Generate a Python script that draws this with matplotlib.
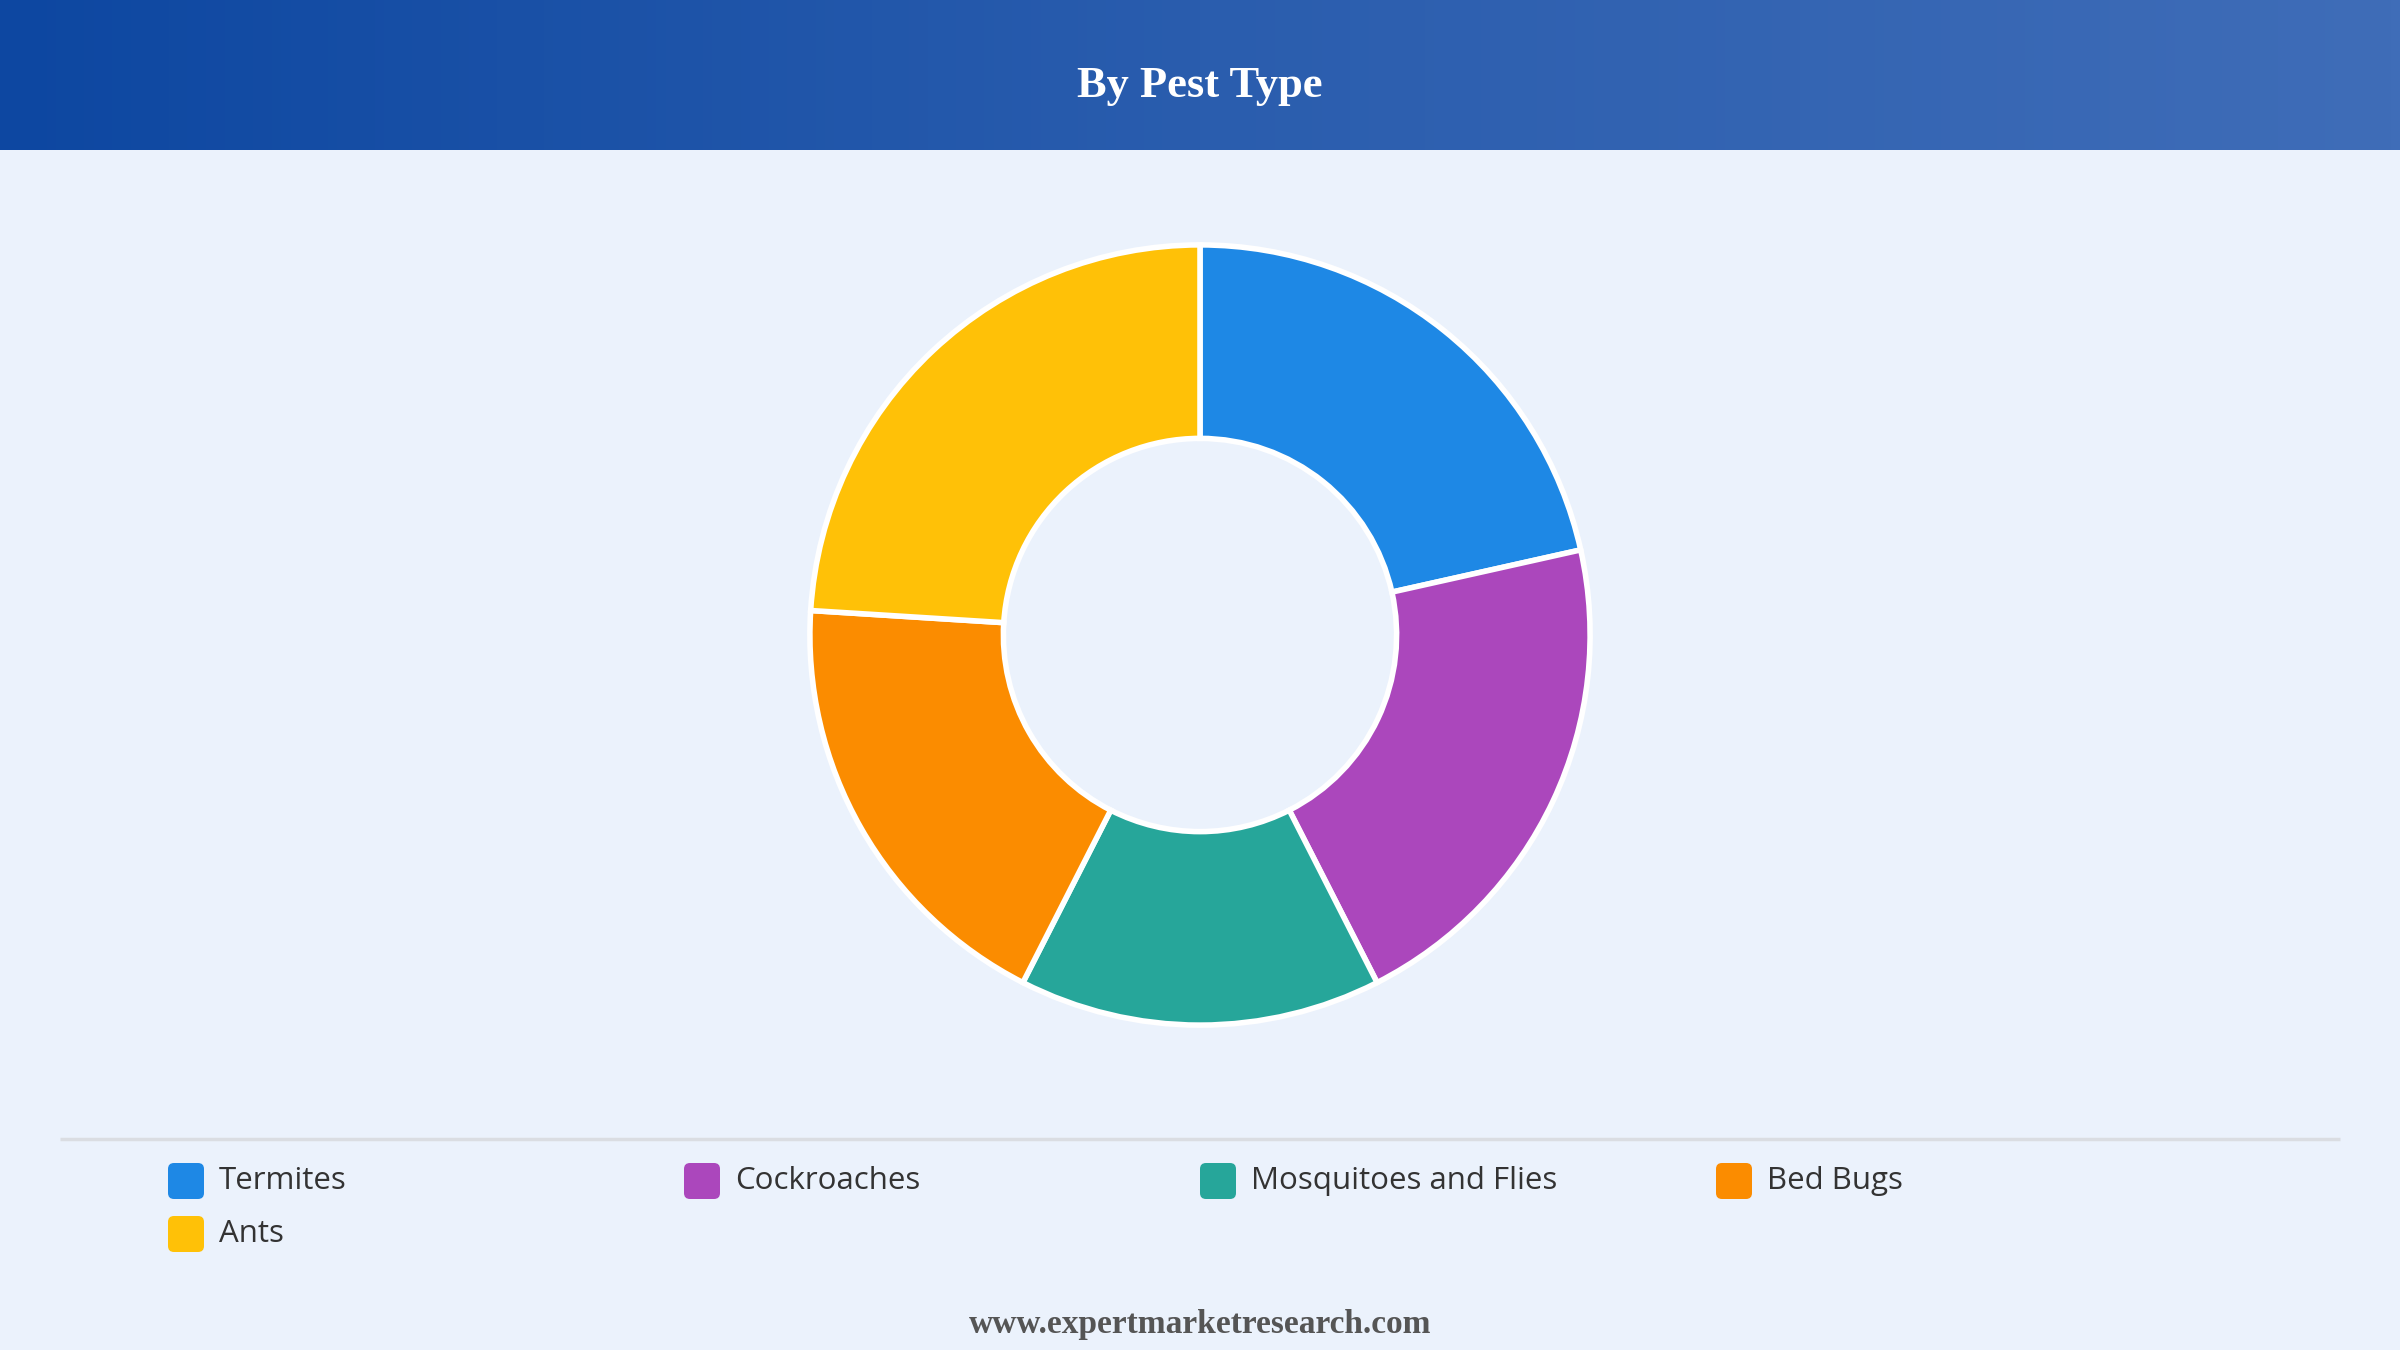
import numpy as np
import matplotlib.pyplot as plt
from matplotlib.patches import FancyBboxPatch
from matplotlib.colors import LinearSegmentedColormap

# data
categories = ['Termites', 'Cockroaches', 'Mosquitoes and Flies', 'Bed Bugs', 'Ants']
shares = [21.5, 21.0, 15.0, 18.5, 24.0]
colors = ['#1E88E5', '#AB47BC', '#26A69A', '#FB8C00', '#FFC107']

title = 'By Pest Type'
footer = 'www.expertmarketresearch.com'

W, H = 2400, 1350
fig = plt.figure(figsize=(W / 100, H / 100), dpi=100)
fig.patch.set_facecolor('#EBF2FC')

# background / header
bg = fig.add_axes([0, 0, 1, 1])
bg.set_xlim(0, W)
bg.set_ylim(H, 0)
bg.axis('off')
grad = LinearSegmentedColormap.from_list('hdr', ['#0D47A1', '#2A5DAE', '#3F6DB8'])
bg.imshow(np.linspace(0, 1, 256)[None, :], cmap=grad, aspect='auto',
          extent=[0, W, 150, 0], zorder=0)
bg.text(W / 2, 86, title, ha='center', va='center', color='white',
        fontsize=32, fontweight='bold', family='Liberation Serif')

# legend separator
bg.plot([60, 2340], [1139, 1139], color='#DADDE2', lw=2.5, solid_capstyle='butt')

# legend entries
col_x = [168, 684, 1200, 1716]
row_y = [1181, 1234]
for i, (lab, c) in enumerate(zip(categories, colors)):
    x = col_x[i % 4]
    y = row_y[i // 4]
    bg.add_patch(FancyBboxPatch((x, y - 18), 36, 36,
                                boxstyle='round,pad=0,rounding_size=6',
                                fc=c, ec='none'))
    bg.text(x + 51, y, lab, ha='left', va='center', fontsize=22.5,
            color='#333333', family='Open Sans')

bg.text(W / 2, 1325, footer, ha='center', va='center', fontsize=24,
        fontweight='bold', color='#555555', family='Liberation Serif')

# donut
cx, cy, r = 1200, 635, 394
ax = fig.add_axes([(cx - r) / W, (H - cy - r) / H, 2 * r / W, 2 * r / H])
ax.pie(shares, colors=colors, startangle=90, counterclock=False, radius=1,
       wedgeprops=dict(width=0.496, edgecolor='white', linewidth=4))
ax.set_xlim(-1.01, 1.01)
ax.set_ylim(-1.01, 1.01)
ax.set_aspect('equal')
ax.axis('off')

fig.savefig('out.png', dpi=100, facecolor=fig.get_facecolor())
